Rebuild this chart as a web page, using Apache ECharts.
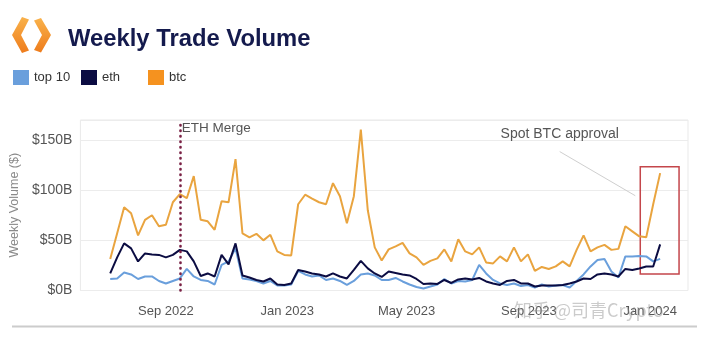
<!DOCTYPE html>
<html>
<head>
<meta charset="utf-8">
<script src="https://cdn.jsdelivr.net/npm/echarts@6/dist/echarts.min.js"></script>
<style>
  html, body { margin: 0; padding: 0; background: #ffffff; }
  #chart { width: 713px; height: 345px; }
</style>
</head>
<body>
<div id="chart"></div>
<script>
// Weekly trade volume, $B, one point per week
const weekDates = [
  '2022-07-07','2022-07-14','2022-07-21','2022-07-28','2022-08-04','2022-08-11','2022-08-18','2022-08-25',
  '2022-09-01','2022-09-08','2022-09-15','2022-09-22','2022-09-29','2022-10-06','2022-10-13','2022-10-20',
  '2022-10-27','2022-11-03','2022-11-10','2022-11-17','2022-11-24','2022-12-01','2022-12-08','2022-12-15',
  '2022-12-22','2022-12-29','2023-01-05','2023-01-12','2023-01-19','2023-01-26','2023-02-02','2023-02-09',
  '2023-02-16','2023-02-23','2023-03-02','2023-03-09','2023-03-16','2023-03-23','2023-03-30','2023-04-06',
  '2023-04-13','2023-04-20','2023-04-27','2023-05-04','2023-05-11','2023-05-18','2023-05-25','2023-06-01',
  '2023-06-08','2023-06-15','2023-06-22','2023-06-29','2023-07-06','2023-07-13','2023-07-20','2023-07-27',
  '2023-08-03','2023-08-10','2023-08-17','2023-08-24','2023-08-31','2023-09-07','2023-09-14','2023-09-21',
  '2023-09-28','2023-10-05','2023-10-12','2023-10-19','2023-10-26','2023-11-02','2023-11-09','2023-11-16',
  '2023-11-23','2023-11-30','2023-12-07','2023-12-14','2023-12-21','2023-12-28','2024-01-04','2024-01-11'
];

const top10Volume = [
  11.5, 12, 18, 16, 11.5, 14, 14, 9.5, 7, 9.5, 12, 21.5, 14, 10.5, 9.5, 6,
  25.5, 29, 42, 12, 11, 9.5, 7, 9.5, 5, 5, 6, 19.5, 16, 14, 15, 10.5,
  12, 9.5, 5.5, 9.5, 16, 17, 15, 10.5, 10.5, 12.5, 9, 6, 3.5, 2, 4, 6,
  11.5, 7, 9.5, 9, 10.5, 25.5, 17, 10.5, 7, 5.5, 7, 4.5, 5.5, 3, 6, 4,
  5, 5.5, 3, 9.5, 16, 24, 30.5, 31.5, 19, 13, 34, 34, 34.5, 34, 29, 31.5
];

const ethVolume = [
  17, 33, 47, 42, 29, 37, 36, 35.5, 33, 35.5, 40.5, 39, 29, 14.5, 17, 14,
  35.5, 26, 47, 15, 13, 10.5, 9, 12, 6, 5.5, 7, 20.5, 19, 17, 16, 14,
  17, 14, 12, 20.5, 29.5, 22, 17, 13.5, 19, 17.5, 16, 15, 11.5, 6.5, 7, 6.5,
  10.5, 7.5, 11, 12, 11, 12.5, 9, 7, 5.5, 9.5, 10.5, 7, 7, 4, 5, 5,
  5, 5.5, 7, 9, 12, 11.5, 16, 17, 16, 14, 21.5, 20.5, 22, 24, 24, 46
];

const btcVolume = [
  31.5, 57, 83, 77, 55, 70.5, 75, 64, 65.5, 88, 96, 92, 114, 70.5, 69, 60.5,
  89, 88, 131, 57, 53, 56.5, 50, 55.5, 39, 35.5, 35, 86, 95.5, 91.5, 88, 86,
  107, 94, 67, 94, 160.5, 80, 43, 30, 41, 44, 47.5, 37, 33, 25.5, 29.5, 32,
  41, 29, 51, 39, 36, 43, 28, 27, 34, 29, 43, 29, 36, 19.5, 23.5, 21.5,
  24, 29, 24, 40.5, 55, 39, 43, 45.5, 40.5, 41.5, 64, 59, 54, 53, 86, 117
];

const xTickDates = ['2022-09-01', '2023-01-01', '2023-05-01', '2023-09-01', '2024-01-01'];
const monthNames = ['Jan','Feb','Mar','Apr','May','Jun','Jul','Aug','Sep','Oct','Nov','Dec'];

const ethMergeDate = '2022-09-15';

const C_TOP10 = '#6a9fdc';
const C_ETH = '#0b0c42';
const C_BTC = '#e9a43f';
const C_BTC_KEY = '#f5921f';

// dates become day-resolution timestamps on a linear value axis
const ts = s => { const p = s.split('-').map(Number); return Date.UTC(p[0], p[1] - 1, p[2]); };
const toPairs = vals => weekDates.map((d, i) => [ts(d), vals[i]]);

const chart = echarts.init(document.getElementById('chart'), null, { renderer: 'canvas' });

const legendBase = {
  top: 70,
  padding: 0,
  icon: 'rect',
  itemWidth: 16,
  itemHeight: 15,
  itemGap: 10,
  textStyle: { fontFamily: 'Liberation Sans', fontSize: 13, color: '#333' },
  selectedMode: false
};

const logoFill = () => new echarts.graphic.LinearGradient(0, 0, 0, 1, [
  { offset: 0, color: '#f9b24b' }, { offset: 1, color: '#ee7c1c' }
]);

const option = {
  backgroundColor: '#ffffff',
  animation: false,
  textStyle: { fontFamily: 'Liberation Sans' },
  title: {
    text: 'Weekly Trade Volume',
    left: 68,
    top: 27,
    padding: 0,
    textStyle: { fontFamily: 'Liberation Sans', fontSize: 23.8, fontWeight: 'bold', color: '#141a4d' }
  },
  legend: [
    Object.assign({}, legendBase, { left: 13, data: [{ name: 'top 10', itemStyle: { color: C_TOP10 } }] }),
    Object.assign({}, legendBase, { left: 81, data: [{ name: 'eth', itemStyle: { color: C_ETH } }] }),
    Object.assign({}, legendBase, { left: 148, data: [{ name: 'btc', itemStyle: { color: C_BTC_KEY } }] })
  ],
  grid: {
    left: 77, right: 25, top: 120, bottom: 54.5,
    show: true, borderColor: '#e9e9e9', borderWidth: 1
  },
  xAxis: {
    type: 'value',
    min: ts('2022-06-07'),
    max: ts('2024-02-08'),
    axisLine: { show: false },
    axisTick: { show: false },
    splitLine: { show: false },
    axisLabel: {
      customValues: xTickDates.map(ts),
      margin: 14,
      fontSize: 13,
      color: '#555',
      formatter: v => { const d = new Date(v); return monthNames[d.getUTCMonth()] + ' ' + d.getUTCFullYear(); }
    }
  },
  yAxis: {
    type: 'value',
    min: 0,
    max: 170,
    interval: 50,
    name: 'Weekly Volume ($)',
    nameLocation: 'middle',
    nameGap: 47,
    nameTextStyle: { fontSize: 12.5, color: '#8a8a8a' },
    axisLine: { show: false },
    axisTick: { show: false },
    splitLine: { lineStyle: { color: '#ececec', width: 1 } },
    axisLabel: {
      showMaxLabel: false,
      margin: 8,
      fontSize: 14,
      color: '#555',
      formatter: v => '$' + v + 'B'
    }
  },
  series: [
    {
      name: 'btc',
      type: 'line',
      data: toPairs(btcVolume),
      showSymbol: false,
      color: C_BTC,
      lineStyle: { width: 2, color: C_BTC },
      z: 2,
      markLine: {
        silent: true,
        symbol: 'none',
        label: { show: false },
        data: [
          { xAxis: ts(ethMergeDate), lineStyle: { type: [0.5, 5], width: 2.6, color: '#7a2145', cap: 'round' } },
          [
            { coord: [ts('2023-10-02'), 138.5], lineStyle: { type: 'solid', width: 1, color: '#cfcfcf' } },
            { coord: [ts('2023-12-17'), 94.5] }
          ]
        ]
      },
      markPoint: {
        silent: true,
        symbol: 'circle',
        symbolSize: 0,
        itemStyle: { color: 'rgba(0,0,0,0)' },
        data: [
          {
            coord: [ts(ethMergeDate), 162],
            label: { show: true, position: 'right', distance: 2, formatter: 'ETH Merge', fontSize: 13.5, color: '#555' }
          },
          {
            coord: [ts('2023-10-02'), 155.5],
            label: { show: true, position: 'inside', formatter: 'Spot BTC approval', fontSize: 14, color: '#555' }
          }
        ]
      },
      markArea: {
        silent: true,
        itemStyle: { color: 'rgba(0,0,0,0)', borderColor: '#c4464b', borderWidth: 1.5 },
        data: [[{ coord: [ts('2023-12-22'), 123.5] }, { coord: [ts('2024-01-30'), 16.5] }]]
      }
    },
    {
      name: 'top 10',
      type: 'line',
      data: toPairs(top10Volume),
      showSymbol: false,
      color: C_TOP10,
      lineStyle: { width: 2, color: C_TOP10 },
      z: 3
    },
    {
      name: 'eth',
      type: 'line',
      data: toPairs(ethVolume),
      showSymbol: false,
      color: C_ETH,
      lineStyle: { width: 2, color: C_ETH },
      z: 4
    }
  ],
  graphic: [
    // logo: two thick chevrons with slanted ends, a gap between them
    {
      type: 'polygon',
      shape: { points: [[22, 17], [29, 19.5], [21, 35], [29, 50.5], [22, 53], [12, 35]] },
      style: { fill: logoFill() }
    },
    {
      type: 'polygon',
      shape: { points: [[41, 18], [34, 20.5], [42, 35], [34, 50], [41, 52.5], [51, 35]] },
      style: { fill: logoFill() }
    },
    {
      type: 'line',
      shape: { x1: 12, y1: 326.5, x2: 697, y2: 326.5 },
      style: { stroke: '#cccccc', lineWidth: 2 }
    },
    {
      type: 'text',
      left: 514,
      top: 301,
      z: 100,
      style: {
        text: '知乎 @司青Crypto',
        font: '18px "Noto Sans CJK SC"',
        fill: 'rgba(140,140,140,0.45)'
      }
    }
  ]
};

chart.setOption(option);
</script>
</body>
</html>
